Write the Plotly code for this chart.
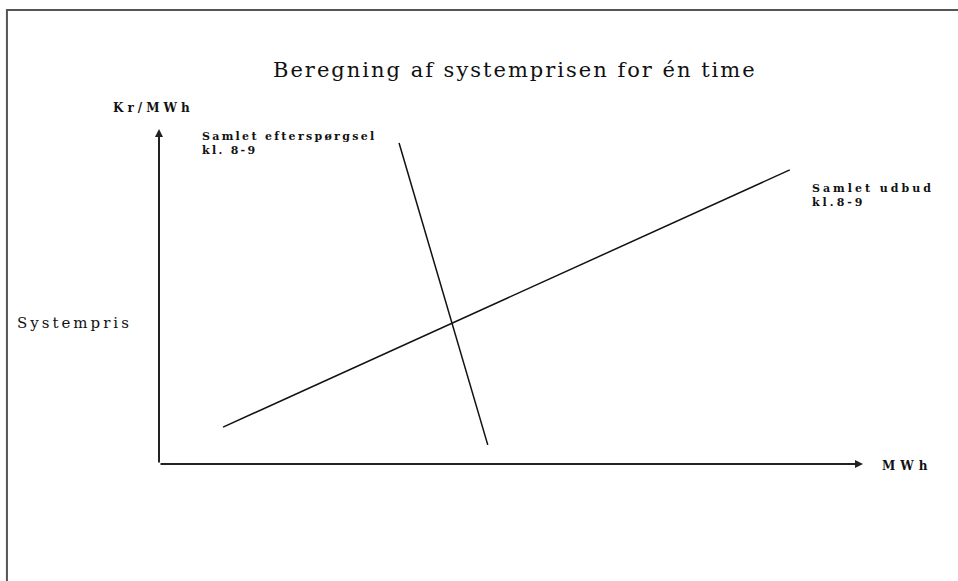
import plotly.graph_objects as go

# schematic units: MWh on x, Kr/MWh on y, both running 0..100
supply_mwh = [9.1, 89.6]
supply_price = [11.0, 87.8]
demand_mwh = [34.1, 46.7]
demand_price = [95.8, 5.7]

title_text = "Beregning af systemprisen for én time"
y_title = "Kr/MWh"
x_title = "MWh"
price_label = "Systempris"
demand_label = "Samlet efterspørgsel<br>kl. 8-9"
supply_label = "Samlet udbud<br>kl.8-9"

SERIF = "DejaVu Serif, Liberation Serif, serif"


def spaced(text, px):
    return f'<span style="letter-spacing:{px}px">{text}</span>'


fig = go.Figure()

fig.add_trace(go.Scatter(x=supply_mwh, y=supply_price, mode="lines",
                         line=dict(color="#111", width=1.5), hoverinfo="skip"))
fig.add_trace(go.Scatter(x=demand_mwh, y=demand_price, mode="lines",
                         line=dict(color="#111", width=1.5), hoverinfo="skip"))

# axis arrows
for tip_x, tip_y in [(0, 100), (100, 0)]:
    fig.add_annotation(x=tip_x, y=tip_y, ax=0, ay=0, xref="x", yref="y",
                       axref="x", ayref="y", text="", showarrow=True,
                       arrowhead=2, arrowsize=0.8, arrowwidth=2, arrowcolor="#222")

# outer frame (runs off the right and bottom edges)
fig.add_shape(type="rect", xref="paper", yref="paper",
              x0=-0.216, x1=1.6, y0=-0.8, y1=1.355,
              line=dict(color="#555", width=2), layer="below")

fig.add_annotation(x=0.506, y=1.176, xref="paper", yref="paper",
                   text=spaced(title_text, 2), showarrow=False,
                   xanchor="center", yanchor="middle",
                   font=dict(family=SERIF, size=21, color="#111"))

small = dict(family=SERIF, size=11, color="#111")
# positions in paper fractions of the axes box
labels = [
    (-0.068, 1.063, f"<b>{spaced(y_title, 4)}</b>", dict(family=SERIF, size=12, color="#111")),
    (1.024, -0.006, f"<b>{spaced(x_title, 5)}</b>", dict(family=SERIF, size=12, color="#111")),
    (-0.205, 0.421, spaced(price_label, 3), dict(family=SERIF, size=15, color="#111")),
    (0.058, 0.958, f"<b>{spaced(demand_label, 2.3)}</b>", small),
    (0.925, 0.801, f"<b>{spaced(supply_label, 3)}</b>", small),
]
for lx, ly, txt, fnt in labels:
    fig.add_annotation(x=lx, y=ly, xref="paper", yref="paper", text=txt, showarrow=False,
                       xanchor="left", yanchor="middle", align="left", font=fnt)

fig.update_xaxes(range=[0, 100], visible=False, fixedrange=True)
fig.update_yaxes(range=[0, 100], visible=False, fixedrange=True)
fig.update_layout(width=958, height=581, showlegend=False,
                  margin=dict(l=159, r=95, t=129, b=117, autoexpand=False),
                  paper_bgcolor="white", plot_bgcolor="white")

# drop the browser's default 8px body margin so the figure sits at the window edge
fig.write_html("out.html", config={"displayModeBar": False},
               post_script="document.body.style.margin='0';")
